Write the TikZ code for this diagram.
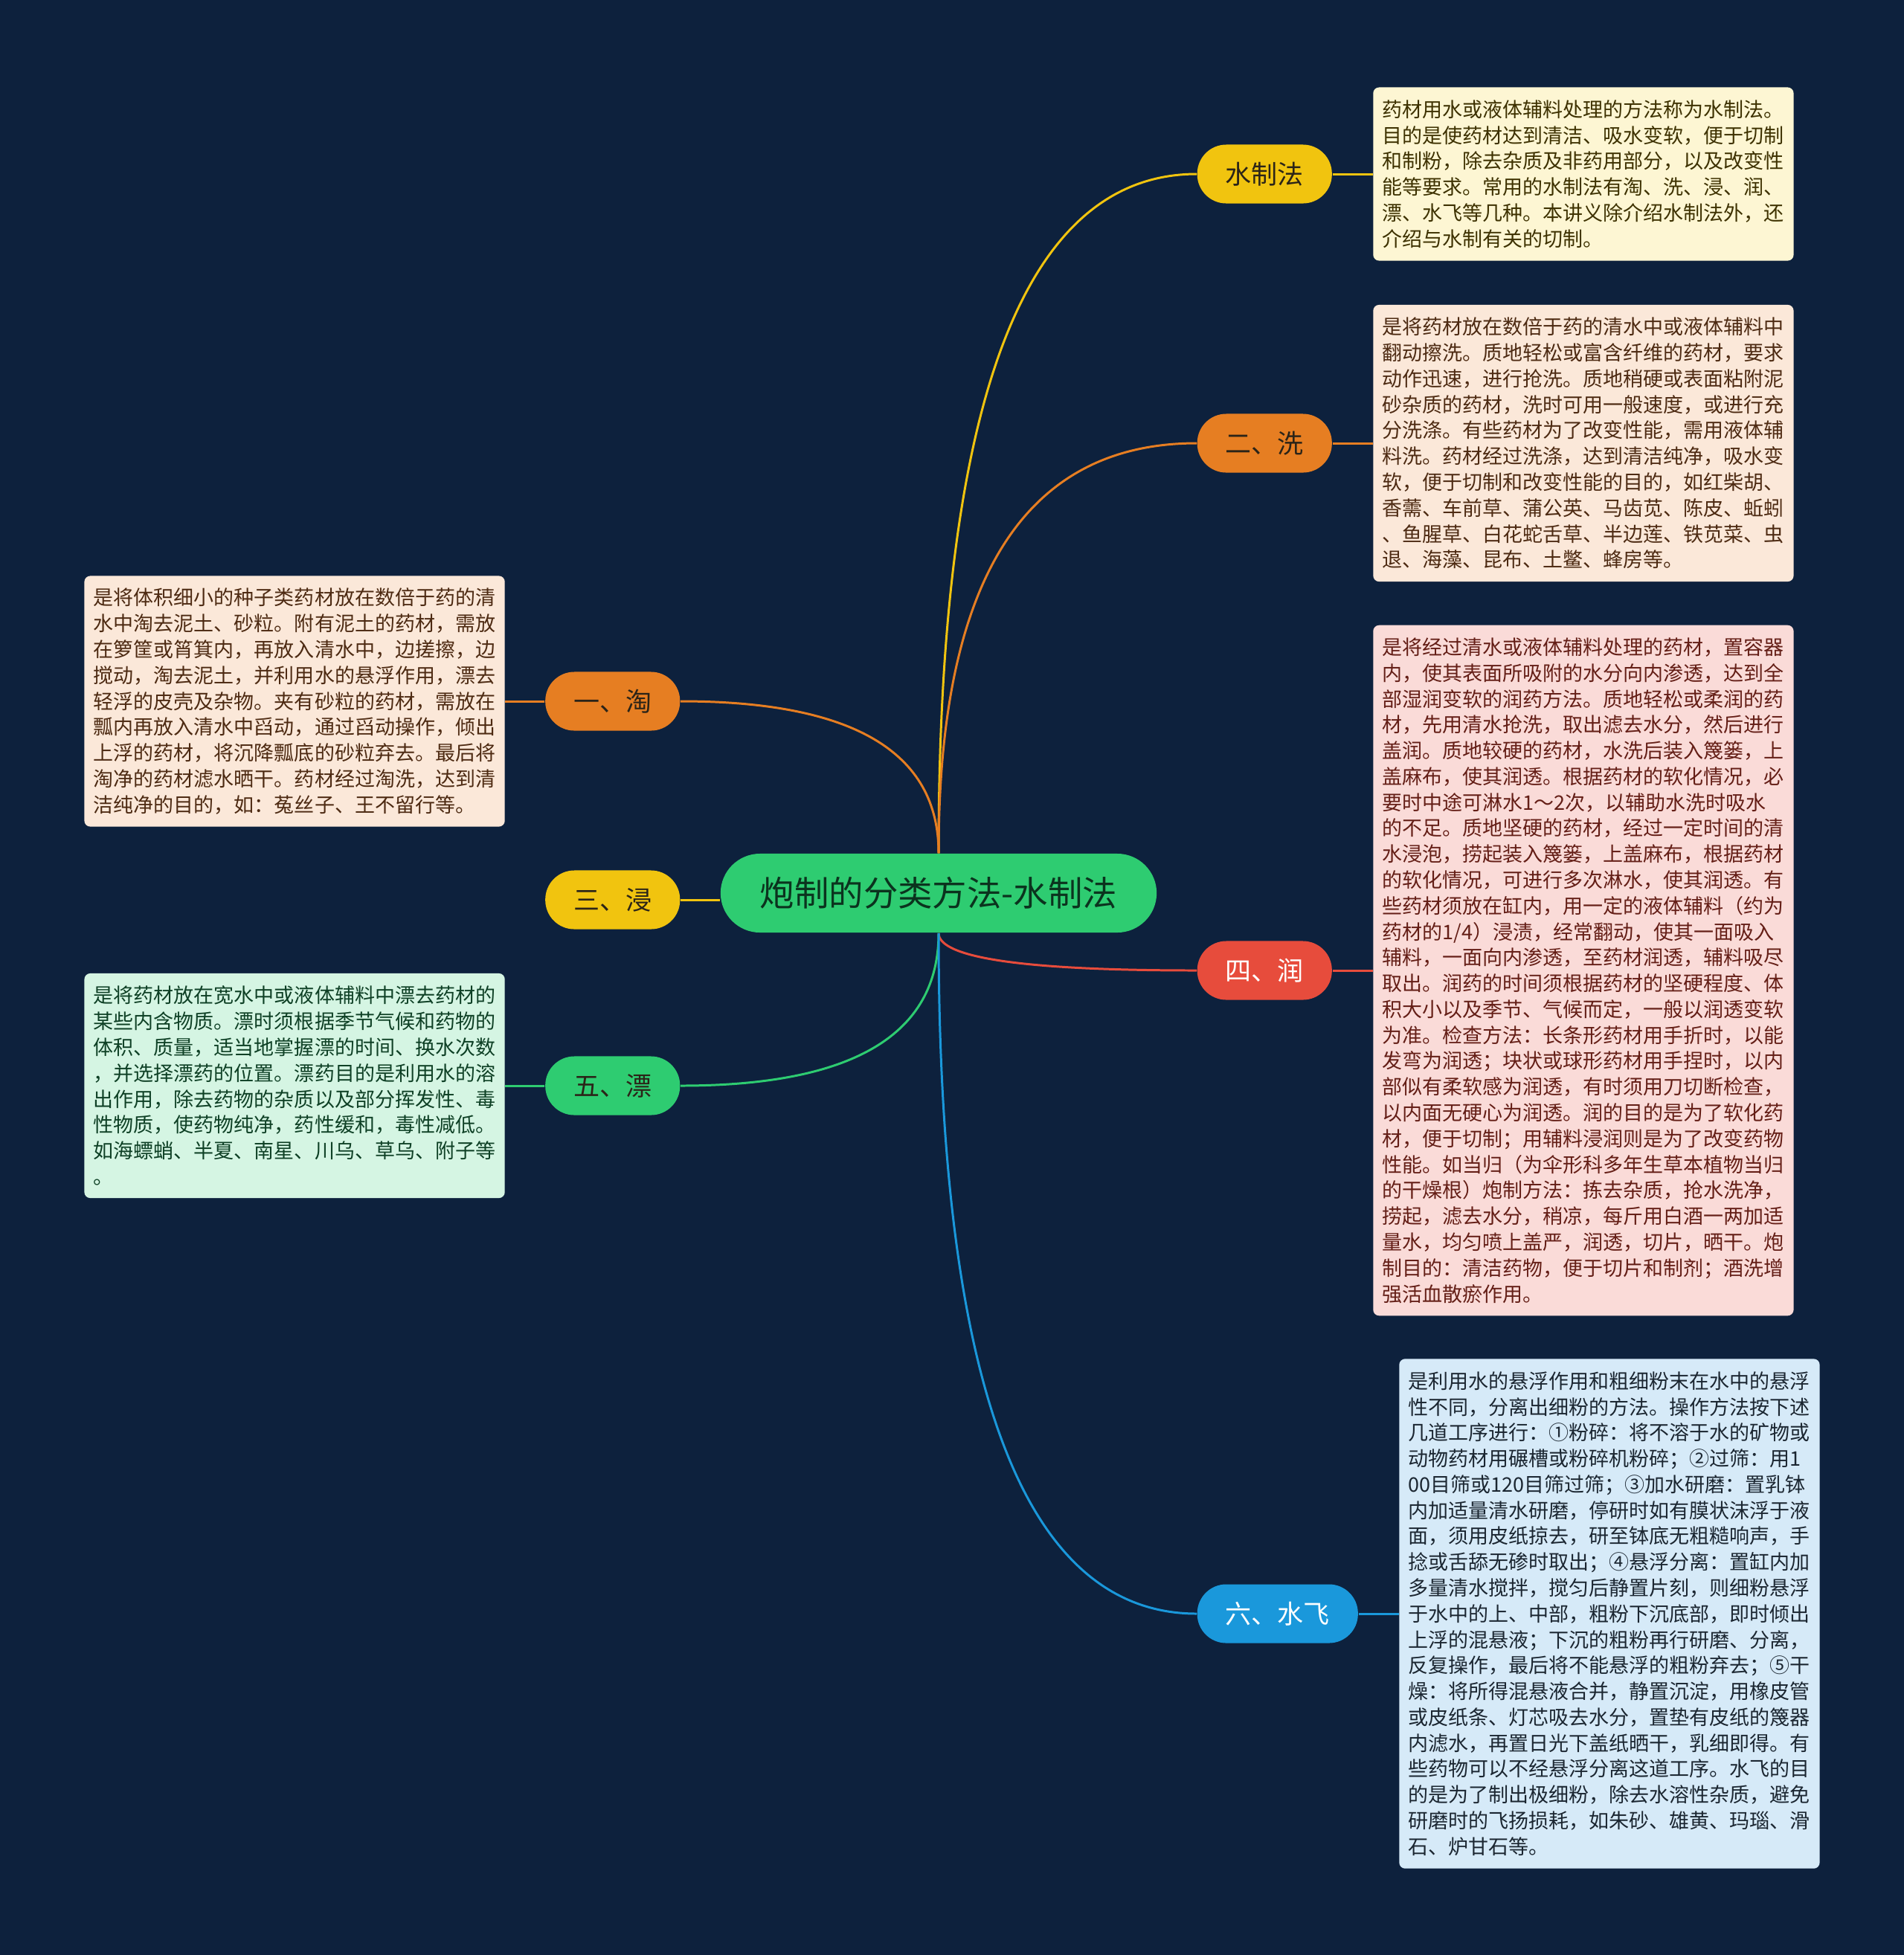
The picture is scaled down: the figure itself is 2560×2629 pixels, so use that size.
\documentclass[tikz,border=0pt]{standalone}
\usepackage{fontspec}
\setmainfont{Noto Sans CJK SC}
\usetikzlibrary{positioning, calc}

\definecolor{bgnavy}{HTML}{0D213D}
\definecolor{sunyellow}{HTML}{F1C40F}
\definecolor{carrot}{HTML}{E67E22}
\definecolor{alizarin}{HTML}{E74C3C}
\definecolor{emerald}{HTML}{2ECC71}
\definecolor{skyblue}{HTML}{1A98DB}
\definecolor{creamfill}{HTML}{FDF6D3}
\definecolor{peachfill}{HTML}{FBE8D9}
\definecolor{pinkfill}{HTML}{FADBD8}
\definecolor{icefill}{HTML}{D6EAF8}
\definecolor{mintfill}{HTML}{D5F5E3}
\definecolor{olivetext}{HTML}{3D3100}
\definecolor{browntext}{HTML}{4D2A12}
\definecolor{maroontext}{HTML}{641E16}
\definecolor{slatetext}{HTML}{1B2631}
\definecolor{pinetext}{HTML}{0E4025}
\definecolor{inktext}{HTML}{2B2418}

\tikzset{
	root/.style={rectangle, rounded corners=5.3mm, fill=emerald, text=pinetext!80!black,
		minimum height=10.6mm, inner xsep=5.3mm, inner ysep=0pt,
		font=\fontsize{13.2pt}{16pt}\selectfont},
	branch/.style={rectangle, rounded corners=3.9mm, minimum height=7.9mm,
		inner xsep=3.8mm, inner ysep=0pt, font=\fontsize{9.96pt}{12pt}\selectfont},
	descbox/.style={rectangle, rounded corners=0.8mm, text width=5.4cm, align=left,
		inner xsep=1.25mm, inner ysep=0pt, font=\fontsize{7.68pt}{9.89pt}\selectfont},
	link/.style={line width=0.85pt},
	% smooth bend: vertical out of the root, horizontal into the branch
	bend link/.style={to path={.. controls ($(\tikztostart)!0.667!(\tikztostart |- \tikztotarget)$)
		and ($(\tikztotarget)!0.667!(\tikztostart |- \tikztotarget)$) .. (\tikztotarget)}},
}

\begin{document}
\begin{tikzpicture}[x=0.01cm,y=-0.01cm]
		
		% Background
		\fill[bgnavy] (0,0) rectangle (2560,2629);
		
		% Central topic
		\node[root] (root) at (1262,1201) {炮制的分类方法-水制法};
		
		% Branches on the right
		\node[branch, fill=sunyellow, text=inktext, anchor=west] (shui) at (1609,234) {水制法};
		\node[branch, fill=carrot, text=inktext, anchor=west] (xi) at (1609,596) {二、洗};
		\node[branch, fill=alizarin, text=white, anchor=west] (run) at (1609,1305) {四、润};
		\node[branch, fill=skyblue, text=white, anchor=west] (fei) at (1609,2170) {六、水飞};
		
		% Branches on the left
		\node[branch, fill=carrot, text=inktext, anchor=east] (tao) at (915,943) {一、淘};
		\node[branch, fill=sunyellow, text=inktext, anchor=east] (jin) at (915,1210) {三、浸};
		\node[branch, fill=emerald, text=inktext, anchor=east] (piao) at (915,1460) {五、漂};
		
		% Description boxes
		\node[descbox, fill=creamfill, text=olivetext, minimum height=2.33cm, right=5.4mm of shui] (shuibox) {%
			药材用水或液体辅料处理的方法称为水制法。\\
			目的是使药材达到清洁、吸水变软，便于切制\\
			和制粉，除去杂质及非药用部分，以及改变性\\
			能等要求。常用的水制法有淘、洗、浸、润、\\
			漂、水飞等几种。本讲义除介绍水制法外，还\\
			介绍与水制有关的切制。};
		
		\node[descbox, fill=peachfill, text=browntext, minimum height=3.72cm, right=5.4mm of xi] (xibox) {%
			是将药材放在数倍于药的清水中或液体辅料中\\
			翻动擦洗。质地轻松或富含纤维的药材，要求\\
			动作迅速，进行抢洗。质地稍硬或表面粘附泥\\
			砂杂质的药材，洗时可用一般速度，或进行充\\
			分洗涤。有些药材为了改变性能，需用液体辅\\
			料洗。药材经过洗涤，达到清洁纯净，吸水变\\
			软，便于切制和改变性能的目的，如红柴胡、\\
			香薷、车前草、蒲公英、马齿苋、陈皮、蚯蚓\\
			、鱼腥草、白花蛇舌草、半边莲、铁苋菜、虫\\
			退、海藻、昆布、土鳖、蜂房等。};
		
		\node[descbox, fill=pinkfill, text=maroontext, minimum height=9.28cm, right=5.4mm of run] (runbox) {%
			是将经过清水或液体辅料处理的药材，置容器\\
			内，使其表面所吸附的水分向内渗透，达到全\\
			部湿润变软的润药方法。质地轻松或柔润的药\\
			材，先用清水抢洗，取出滤去水分，然后进行\\
			盖润。质地较硬的药材，水洗后装入篾篓，上\\
			盖麻布，使其润透。根据药材的软化情况，必\\
			要时中途可淋水1～2次，以辅助水洗时吸水\\
			的不足。质地坚硬的药材，经过一定时间的清\\
			水浸泡，捞起装入篾篓，上盖麻布，根据药材\\
			的软化情况，可进行多次淋水，使其润透。有\\
			些药材须放在缸内，用一定的液体辅料（约为\\
			药材的1/4）浸渍，经常翻动，使其一面吸入\\
			辅料，一面向内渗透，至药材润透，辅料吸尽\\
			取出。润药的时间须根据药材的坚硬程度、体\\
			积大小以及季节、气候而定，一般以润透变软\\
			为准。检查方法：长条形药材用手折时，以能\\
			发弯为润透；块状或球形药材用手捏时，以内\\
			部似有柔软感为润透，有时须用刀切断检查，\\
			以内面无硬心为润透。润的目的是为了软化药\\
			材，便于切制；用辅料浸润则是为了改变药物\\
			性能。如当归（为伞形科多年生草本植物当归\\
			的干燥根）炮制方法：拣去杂质，抢水洗净，\\
			捞起，滤去水分，稍凉，每斤用白酒一两加适\\
			量水，均匀喷上盖严，润透，切片，晒干。炮\\
			制目的：清洁药物，便于切片和制剂；酒洗增\\
			强活血散瘀作用。};
		
		\node[descbox, fill=icefill, text=slatetext, minimum height=6.85cm, right=5.4mm of fei] (feibox) {%
			是利用水的悬浮作用和粗细粉末在水中的悬浮\\
			性不同，分离出细粉的方法。操作方法按下述\\
			几道工序进行：①粉碎：将不溶于水的矿物或\\
			动物药材用碾槽或粉碎机粉碎；②过筛：用1\\
			00目筛或120目筛过筛；③加水研磨：置乳钵\\
			内加适量清水研磨，停研时如有膜状沫浮于液\\
			面，须用皮纸掠去，研至钵底无粗糙响声，手\\
			捻或舌舔无碜时取出；④悬浮分离：置缸内加\\
			多量清水搅拌，搅匀后静置片刻，则细粉悬浮\\
			于水中的上、中部，粗粉下沉底部，即时倾出\\
			上浮的混悬液；下沉的粗粉再行研磨、分离，\\
			反复操作，最后将不能悬浮的粗粉弃去；⑤干\\
			燥：将所得混悬液合并，静置沉淀，用橡皮管\\
			或皮纸条、灯芯吸去水分，置垫有皮纸的篾器\\
			内滤水，再置日光下盖纸晒干，乳细即得。有\\
			些药物可以不经悬浮分离这道工序。水飞的目\\
			的是为了制出极细粉，除去水溶性杂质，避免\\
			研磨时的飞扬损耗，如朱砂、雄黄、玛瑙、滑\\
			石、炉甘石等。};
		
		\node[descbox, fill=peachfill, text=browntext, minimum height=3.37cm, left=5.3mm of tao] (taobox) {%
			是将体积细小的种子类药材放在数倍于药的清\\
			水中淘去泥土、砂粒。附有泥土的药材，需放\\
			在箩筐或筲箕内，再放入清水中，边搓擦，边\\
			搅动，淘去泥土，并利用水的悬浮作用，漂去\\
			轻浮的皮壳及杂物。夹有砂粒的药材，需放在\\
			瓢内再放入清水中舀动，通过舀动操作，倾出\\
			上浮的药材，将沉降瓢底的砂粒弃去。最后将\\
			淘净的药材滤水晒干。药材经过淘洗，达到清\\
			洁纯净的目的，如：菟丝子、王不留行等。};
		
		\node[descbox, fill=mintfill, text=pinetext, minimum height=3.02cm, left=5.3mm of piao] (piaobox) {%
			是将药材放在宽水中或液体辅料中漂去药材的\\
			某些内含物质。漂时须根据季节气候和药物的\\
			体积、质量，适当地掌握漂的时间、换水次数\\
			，并选择漂药的位置。漂药目的是利用水的溶\\
			出作用，除去药物的杂质以及部分挥发性、毒\\
			性物质，使药物纯净，药性缓和，毒性减低。\\
			如海螵蛸、半夏、南星、川乌、草乌、附子等\\
			。};
		
		% Curved links from the central topic
		\draw[link, bend link, sunyellow] (root.north) to (shui.west);
		\draw[link, bend link, carrot] (root.north) to (xi.west);
		\draw[link, bend link, carrot] (root.north) to (tao.east);
		\draw[link, bend link, alizarin] (root.south) to (run.west);
		\draw[link, bend link, emerald] (root.south) to (piao.east);
		\draw[link, bend link, skyblue] (root.south) to (fei.west);
		\draw[link, sunyellow] (jin.east) -- (jin.east -| root.west);
		
		% Short links to the description boxes
		\foreach \b/\c in {shui/sunyellow, xi/carrot, run/alizarin, fei/skyblue} {
			\draw[link, \c] (\b.east) -- (\b box.west);
		}
		\foreach \b/\c in {tao/carrot, piao/emerald} {
			\draw[link, \c] (\b.west) -- (\b box.east);
		}
		
	\end{tikzpicture}
\end{document}
